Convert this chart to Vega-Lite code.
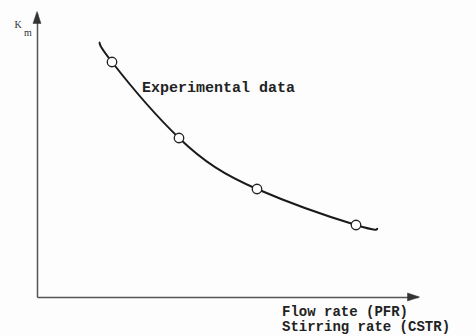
{
  "$schema": "https://vega.github.io/schema/vega-lite/v6.json",
  "autosize": "none",
  "padding": {"left": 37, "top": 13, "right": 58, "bottom": 39},
  "width": 381,
  "height": 284,
  "background": "#fdfdfd",
  "config": {"view": {"stroke": null}},
  "datasets": {
    "curve": [
      {"x": 63, "y": 255},
      {"x": 75, "y": 235},
      {"x": 142, "y": 159},
      {"x": 220, "y": 108},
      {"x": 319, "y": 72},
      {"x": 340, "y": 69}
    ],
    "points": [
      {"x": 75, "y": 235},
      {"x": 142, "y": 159},
      {"x": 220, "y": 108},
      {"x": 319, "y": 72}
    ],
    "labels": [
      {"x": 105, "y": 210, "t": "Experimental data"}
    ],
    "xlabels": [
      {"x": 245, "y": -15, "t": "Flow rate (PFR)"},
      {"x": 245, "y": -30, "t": "Stirring rate (CSTR)"}
    ],
    "arrows": [
      {"x": 0, "y": 275.5, "a": 0},
      {"x": 372.5, "y": 0, "a": 90}
    ]
  },
  "encoding": {
    "x": {"field": "x", "type": "quantitative", "scale": {"domain": [0, 381], "nice": false, "zero": false},
      "axis": {"title": null, "labels": false, "ticks": false, "grid": false, "domainColor": "#555", "domainWidth": 1.5}},
    "y": {"field": "y", "type": "quantitative", "scale": {"domain": [0, 284], "nice": false, "zero": false},
      "axis": {"title": null, "labels": false, "ticks": false, "grid": false, "domainColor": "#555", "domainWidth": 1.5}}
  },
  "layer": [
    {
      "data": {"name": "curve"},
      "mark": {"type": "line", "interpolate": "natural", "color": "#1a1a1a", "strokeWidth": 2}
    },
    {
      "data": {"name": "points"},
      "mark": {"type": "point", "shape": "circle", "filled": true, "fill": "white", "stroke": "#222", "strokeWidth": 1.3, "size": 90, "opacity": 1}
    },
    {
      "data": {"name": "arrows"},
      "mark": {"type": "point", "shape": "M0,-1L0.4,0.2L-0.4,0.2Z", "filled": true, "fill": "#333", "stroke": "#333", "strokeWidth": 0.5, "size": 400, "opacity": 1},
      "encoding": {"angle": {"field": "a", "type": "quantitative", "scale": null}}
    },
    {
      "data": {"name": "labels"},
      "mark": {"type": "text", "align": "left", "baseline": "middle", "font": "Liberation Mono", "fontSize": 15, "fontWeight": "bold", "color": "#222"},
      "encoding": {"text": {"field": "t"}}
    },
    {
      "data": {"name": "xlabels"},
      "mark": {"type": "text", "align": "left", "baseline": "middle", "font": "Liberation Mono", "fontSize": 14, "fontWeight": "bold", "color": "#222"},
      "encoding": {"text": {"field": "t"}}
    },
    {
      "data": {"values": [{"x": -19, "y": 272, "t": "K"}, {"x": -9, "y": 264, "t": "m"}]},
      "mark": {"type": "text", "align": "center", "baseline": "middle", "font": "Liberation Serif", "fontSize": 10, "color": "#333"},
      "encoding": {"text": {"field": "t"}}
    }
  ]
}
